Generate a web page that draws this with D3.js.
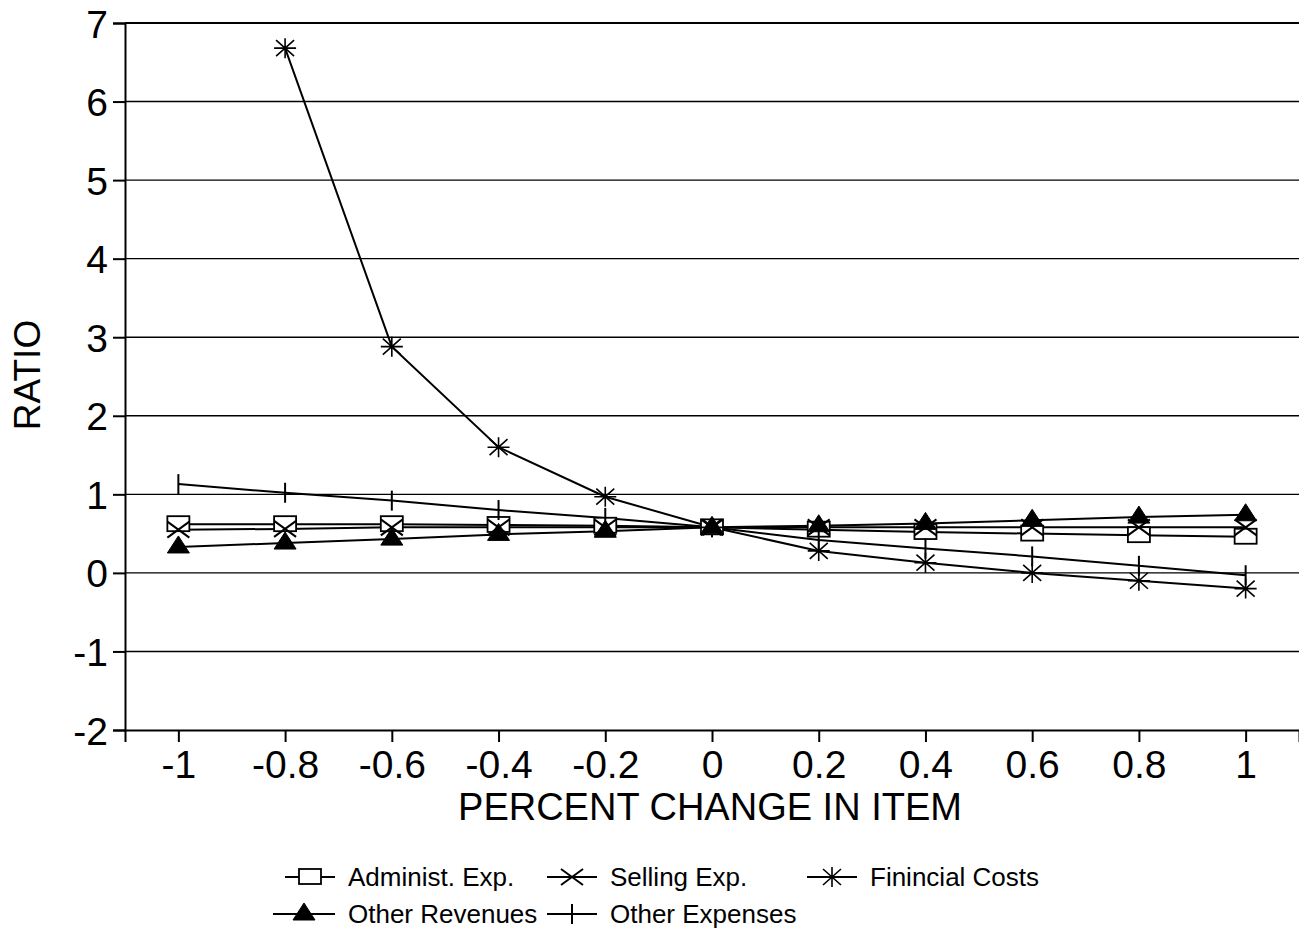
<!DOCTYPE html>
<html>
<body style="margin:0;background:#fff">
<style>
  body { font-family: "Liberation Sans", Arial, sans-serif; }
  .axis text { font-family: "Liberation Sans", Arial, sans-serif; }
</style>
<svg id="chart" width="1299" height="933"></svg>
<script src="https://cdnjs.cloudflare.com/ajax/libs/d3/7.8.5/d3.min.js"></script>
<script>
// data
var xValues = [-1, -0.8, -0.6, -0.4, -0.2, 0, 0.2, 0.4, 0.6, 0.8, 1];
var xTickLabels = ["-1", "-0.8", "-0.6", "-0.4", "-0.2", "0", "0.2", "0.4", "0.6", "0.8", "1"];
var yTicks = [-2, -1, 0, 1, 2, 3, 4, 5, 6, 7];

var administ = [0.62, 0.62, 0.62, 0.61, 0.6, 0.58, 0.55, 0.52, 0.5, 0.48, 0.46];
var selling = [0.55, 0.56, 0.58, 0.58, 0.58, 0.58, 0.58, 0.58, 0.58, 0.58, 0.58];
var financial = [null, 6.68, 2.88, 1.6, 0.97, 0.58, 0.28, 0.13, 0.0, -0.1, -0.2];
var otherRev = [0.33, 0.38, 0.43, 0.49, 0.53, 0.58, 0.6, 0.63, 0.67, 0.71, 0.74];
var otherExp = [1.13, 1.02, 0.92, 0.8, 0.7, 0.58, 0.42, 0.31, 0.21, 0.09, -0.03];

var series = [
  { name: "Administ. Exp.", values: administ, mark: "square" },
  { name: "Selling Exp.", values: selling, mark: "x" },
  { name: "Finincial Costs", values: financial, mark: "star" },
  { name: "Other Revenues", values: otherRev, mark: "triangle" },
  { name: "Other Expenses", values: otherExp, mark: "plus" }
];

var svg = d3.select("#chart");

var x = d3.scaleLinear().domain([-1.1, 1.1]).range([125, 1299]);
var y = d3.scaleLinear().domain([-2, 7]).range([730, 23]);

// grid lines
svg.append("g")
  .selectAll("line")
  .data(yTicks.filter(function(d) { return d > -2; }))
  .enter().append("line")
    .attr("x1", x.range()[0])
    .attr("x2", x.range()[1])
    .attr("y1", function(d) { return y(d); })
    .attr("y2", function(d) { return y(d); })
    .attr("stroke", "#000")
    .attr("stroke-width", function(d) { return d == 7 ? 2 : 1.4; });

// axes
var yAxis = svg.append("g")
    .attr("class", "axis")
    .attr("transform", "translate(125,0)")
    .call(d3.axisLeft(y).tickValues(yTicks).tickSize(12).tickPadding(5)
      .tickFormat(function(d) { return String(d); }));
var xAxis = svg.append("g")
    .attr("class", "axis")
    .attr("transform", "translate(0,730)")
    .call(d3.axisBottom(x).tickValues(xValues).tickSize(12).tickPadding(6)
      .tickFormat(function(d, i) { return xTickLabels[i]; }));

svg.selectAll(".axis .domain").attr("stroke", "#000").attr("stroke-width", 2);
svg.selectAll(".axis .tick line").attr("stroke", "#000").attr("stroke-width", 2);
svg.selectAll(".axis text").attr("fill", "#000").attr("font-size", 39);
yAxis.selectAll("text").attr("dy", "0.36em");
xAxis.selectAll("text").attr("dy", "0.76em");

// axis titles
svg.append("text")
  .attr("x", 710).attr("y", 820)
  .attr("text-anchor", "middle")
  .attr("font-size", 38)
  .text("PERCENT CHANGE IN ITEM");
svg.append("text")
  .attr("transform", "translate(40,375) rotate(-90)")
  .attr("text-anchor", "middle")
  .attr("font-size", 37)
  .text("RATIO");

// marker drawing
function drawMark(g, type, cx, cy) {
  if (type == "square") {
    g.append("rect").attr("x", cx - 11).attr("y", cy - 8).attr("width", 22).attr("height", 15)
      .attr("fill", "#fff").attr("stroke", "#000").attr("stroke-width", 1.8);
  } else if (type == "x") {
    g.append("path").attr("d", "M" + (cx - 11) + "," + (cy - 8) + "L" + (cx + 11) + "," + (cy + 8) +
        "M" + (cx - 11) + "," + (cy + 8) + "L" + (cx + 11) + "," + (cy - 8))
      .attr("stroke", "#000").attr("stroke-width", 2).attr("fill", "none");
  } else if (type == "star") {
    g.append("path").attr("d", "M" + (cx - 11) + "," + cy + "L" + (cx + 11) + "," + cy +
        "M" + cx + "," + (cy - 10) + "L" + cx + "," + (cy + 10) +
        "M" + (cx - 9) + "," + (cy - 8) + "L" + (cx + 9) + "," + (cy + 8) +
        "M" + (cx - 9) + "," + (cy + 8) + "L" + (cx + 9) + "," + (cy - 8))
      .attr("stroke", "#000").attr("stroke-width", 1.6).attr("fill", "none");
  } else if (type == "triangle") {
    g.append("path").attr("d", "M" + cx + "," + (cy - 11) + "L" + (cx + 11) + "," + (cy + 6) +
        "L" + (cx - 11) + "," + (cy + 6) + "Z")
      .attr("fill", "#000").attr("stroke", "#000").attr("stroke-width", 1);
  } else if (type == "plus") {
    g.append("path").attr("d", "M" + cx + "," + (cy - 10) + "L" + cx + "," + (cy + 10))
      .attr("stroke", "#000").attr("stroke-width", 2).attr("fill", "none");
  }
}

var line = d3.line()
  .defined(function(d) { return d[1] != null; })
  .x(function(d) { return x(d[0]); })
  .y(function(d) { return y(d[1]); });

var plot = svg.append("g");
series.forEach(function(s) {
  var pts = xValues.map(function(v, i) { return [v, s.values[i]]; });
  plot.append("path")
    .attr("d", line(pts))
    .attr("fill", "none")
    .attr("stroke", "#000")
    .attr("stroke-width", 2);
});
series.forEach(function(s) {
  var g = plot.append("g");
  xValues.forEach(function(v, i) {
    if (s.values[i] != null) drawMark(g, s.mark, x(v), y(s.values[i]));
  });
});

// legend
var legendPos = [
  { x: 335, y: 877 }, { x: 597, y: 877 }, { x: 857, y: 877 },
  { x: 335, y: 914 }, { x: 597, y: 914 }
];
series.forEach(function(s, i) {
  var p = legendPos[i];
  var g = svg.append("g");
  var len = i == 3 ? 62 : 50;
  g.append("line").attr("x1", p.x - len).attr("x2", p.x).attr("y1", p.y).attr("y2", p.y)
    .attr("stroke", "#000").attr("stroke-width", 2);
  drawMark(g, s.mark, p.x - len / 2, p.y);
  g.append("text").attr("x", p.x + 13).attr("y", p.y + 9)
    .attr("font-size", 26).text(s.name);
});
</script>
</body>
</html>
